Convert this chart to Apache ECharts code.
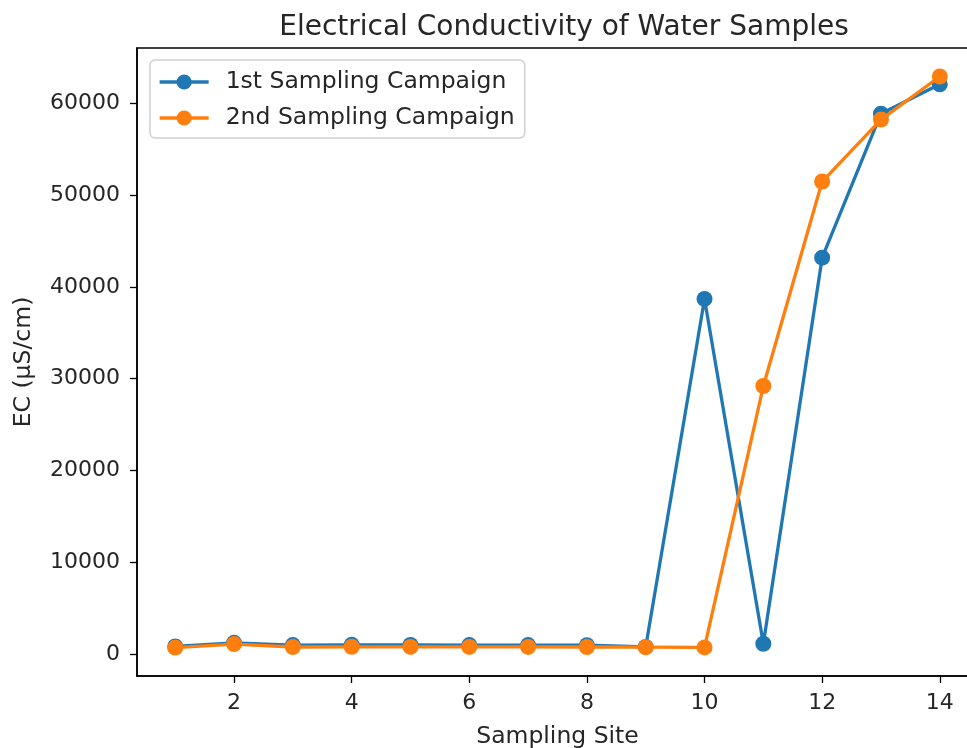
<!DOCTYPE html>
<html>
<head>
<meta charset="utf-8">
<script src="https://cdn.jsdelivr.net/npm/echarts@6/dist/echarts.min.js"></script>
<style>
  html, body { margin: 0; padding: 0; background: #fff; }
  #chart { width: 967px; height: 748px; }
</style>
</head>
<body>
<div id="chart"></div>
<script>
// sampling sites and EC readings (µS/cm)
const sites = [1, 2, 3, 4, 5, 6, 7, 8, 9, 10, 11, 12, 13, 14]
const campaign1 = [800, 1200, 950, 980, 970, 950, 950, 940, 750, 38700, 1100, 43200, 58900, 62100]
const campaign2 = [680, 1060, 740, 760, 750, 750, 750, 740, 720, 700, 29200, 51500, 58250, 62950]
const xTicks = [2, 4, 6, 8, 10, 12, 14]
const yTicks = [0, 10000, 20000, 30000, 40000, 50000, 60000]

const font = 'DejaVu Sans'
const textColor = '#262626'

const chart = echarts.init(document.getElementById('chart'))

const lineSeries = (name, values, color, z) => ({
  name,
  type: 'line',
  data: sites.map((s, i) => [s, values[i]]),
  symbol: 'circle',
  symbolSize: 16,
  z,
  lineStyle: { color, width: 3.3 },
  itemStyle: { color },
  animation: false,
})

chart.setOption({
  backgroundColor: '#fff',
  title: {
    text: 'Electrical Conductivity of Water Samples',
    left: 559, top: 9, textAlign: 'center',
    textStyle: { fontFamily: font, fontSize: 28, fontWeight: 'normal', color: textColor },
  },
  grid: {
    left: 137, top: 48, width: 841, height: 628,
    outerBoundsMode: 'none',
    show: true, borderColor: '#000', borderWidth: 1.5, backgroundColor: 'transparent',
  },
  legend: {
    orient: 'vertical',
    left: 150, top: 60,
    itemWidth: 49, itemHeight: 19, itemGap: 10,
    padding: [9, 10, 7, 8],
    borderColor: '#d0d0d0', borderWidth: 1.5, borderRadius: 5,
    backgroundColor: 'rgba(255,255,255,0.8)',
    lineStyle: { width: 3.3 },
    textStyle: { fontFamily: font, fontSize: 23.5, lineHeight: 26, color: textColor, padding: [0, 0, 0, 12] },
    data: ['1st Sampling Campaign', '2nd Sampling Campaign'],
  },
  xAxis: {
    type: 'value',
    min: 0.35, max: 14.65,
    name: 'Sampling Site',
    nameLocation: 'middle', nameGap: 49,
    nameTextStyle: { fontFamily: font, fontSize: 23.5, color: textColor },
    axisLine: { show: true, onZero: false, lineStyle: { color: '#000', width: 1.5 } },
    axisTick: { show: true, customValues: xTicks, length: 7, lineStyle: { color: '#000', width: 1.3 } },
    axisLabel: { customValues: xTicks, fontFamily: font, fontSize: 22, color: textColor, margin: 16 },
    splitLine: { show: false },
  },
  yAxis: {
    type: 'value',
    min: -2420, max: 66060,
    name: 'EC (µS/cm)',
    nameLocation: 'middle', nameGap: 101, nameRotate: 90,
    nameTextStyle: { fontFamily: font, fontSize: 23.5, color: textColor },
    axisLine: { show: true, onZero: false, lineStyle: { color: '#000', width: 1.5 } },
    axisTick: { show: true, customValues: yTicks, length: 7, lineStyle: { color: '#000', width: 1.3 } },
    axisLabel: {
      customValues: yTicks, fontFamily: font, fontSize: 22, color: textColor, margin: 17,
      formatter: v => String(v),
    },
    splitLine: { show: false },
  },
  series: [
    lineSeries('1st Sampling Campaign', campaign1, '#1f77b4', 2),
    lineSeries('2nd Sampling Campaign', campaign2, '#ff7f0e', 3),
  ],
})
</script>
</body>
</html>
